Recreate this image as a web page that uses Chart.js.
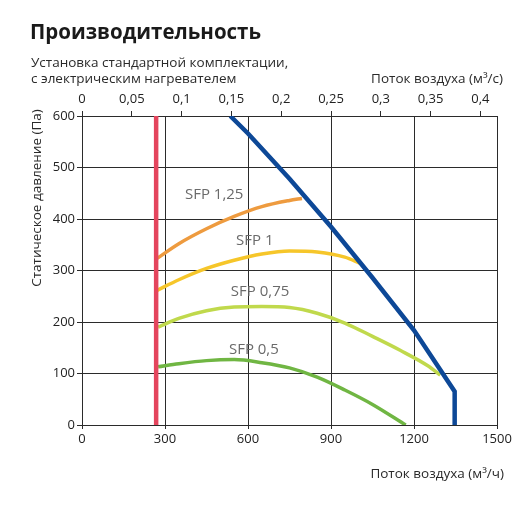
<!DOCTYPE html>
<html>
<head>
<meta charset="utf-8">
<script src="https://cdn.jsdelivr.net/npm/chart.js@4/dist/chart.umd.min.js"></script>
<style>
  html, body { margin: 0; padding: 0; background: #fff; }
  #wrap { position: relative; width: 532px; height: 510px; }
</style>
</head>
<body>
<div id="wrap"><canvas id="perfChart" width="532" height="510"></canvas></div>
<script>
// Airflow (m3/h) and static pressure (Pa)
const limitX = [268, 268];
const limitY = [0, 600];

const fanX = [536, 600, 750, 900, 1050, 1200, 1347, 1347];
const fanY = [600, 566, 478, 385, 286, 184, 65, 0];

const sfp125X = [270, 350, 450, 550, 650, 750, 795];
const sfp125Y = [323, 352, 381, 405, 424, 436, 440];

const sfp1X = [270, 350, 450, 550, 650, 750, 850, 950, 1005];
const sfp1Y = [261, 282, 304, 320, 332, 338, 336, 326, 314];

const sfp075X = [275, 350, 450, 550, 650, 750, 850, 950, 1050, 1150, 1250, 1295];
const sfp075Y = [190, 207, 222, 229, 230, 228, 217, 198, 172, 145, 115, 97];

const sfp05X = [275, 350, 450, 550, 650, 750, 850, 950, 1050, 1170];
const sfp05Y = [113, 119, 125, 127, 121, 111, 93, 68, 40, 0];

// curve labels, anchored in data coords (left edge, vertical middle)
const curveLabels = ['SFP 1,25', 'SFP 1', 'SFP 0,75', 'SFP 0,5'];
const curveLabelX = [372, 557, 538, 531];
const curveLabelY = [447, 357, 258, 146];

// tick labels
const bottomTicks = [0, 300, 600, 900, 1200, 1500];
const topTicks = [0, 0.05, 0.1, 0.15, 0.2, 0.25, 0.3, 0.35, 0.4];
const leftTicks = [0, 100, 200, 300, 400, 500, 600];

const FONT = '"Open Sans", "Noto Sans", sans-serif';
const GRID = '#2b2b2b';

function pts(xs, ys) {
    return xs.map((x, i) => ({ x: x, y: ys[i] }));
}

const textPlugin = {
    id: 'texts',
    afterDatasetsDraw(chart) {
        const ctx = chart.ctx;
        const xs = chart.scales.x, ys = chart.scales.y;
        ctx.save();

        // curve labels
        ctx.fillStyle = '#6a6a6a';
        ctx.font = '15px ' + FONT;
        ctx.textAlign = 'left';
        ctx.textBaseline = 'middle';
        curveLabels.forEach((t, i) => {
            ctx.fillText(t, xs.getPixelForValue(curveLabelX[i]), ys.getPixelForValue(curveLabelY[i]));
        });

        // headings
        ctx.fillStyle = '#1a1a1a';
        ctx.textBaseline = 'alphabetic';
        ctx.font = 'bold 20.5px ' + FONT;
        ctx.fillText('Производительность', 30, 39);

        ctx.fillStyle = '#2a2a2a';
        ctx.font = '13.5px ' + FONT;
        ctx.fillText('Установка стандартной комплектации,', 31, 67);
        ctx.fillText('с электрическим нагревателем', 31, 83);

        ctx.textAlign = 'right';
        ctx.fillText('Поток воздуха (м³/с)', 503, 83);
        ctx.fillText('Поток воздуха (м³/ч)', 504, 478);

        // y axis title
        ctx.translate(37, 198);
        ctx.rotate(-Math.PI / 2);
        ctx.textAlign = 'center';
        ctx.textBaseline = 'middle';
        ctx.fillText('Статическое давление (Па)', 0, 0);
        ctx.restore();
    }
};

const ctx = document.getElementById('perfChart').getContext('2d');
new Chart(ctx, {
    type: 'line',
    data: {
        datasets: [
            { data: pts(fanX, fanY), borderColor: '#0d4897', borderWidth: 4.5, tension: 0, order: 0 },
            { data: pts(limitX, limitY), borderColor: '#e4455d', borderWidth: 4.5, tension: 0, order: 1 },
            { data: pts(sfp125X, sfp125Y), borderColor: '#ee9b3f', borderWidth: 3.5, cubicInterpolationMode: 'monotone', order: 2 },
            { data: pts(sfp1X, sfp1Y), borderColor: '#f6c62a', borderWidth: 3.5, cubicInterpolationMode: 'monotone', order: 3 },
            { data: pts(sfp075X, sfp075Y), borderColor: '#c0d94c', borderWidth: 3.5, cubicInterpolationMode: 'monotone', order: 4 },
            { data: pts(sfp05X, sfp05Y), borderColor: '#70b643', borderWidth: 3.5, cubicInterpolationMode: 'monotone', order: 5 }
        ]
    },
    options: {
        responsive: false,
        animation: false,
        elements: { point: { radius: 0 }, line: { borderCapStyle: 'butt', borderJoinStyle: 'miter' } },
        layout: { padding: { left: 0, top: 0, right: 35, bottom: 0 } },
        plugins: { legend: { display: false }, tooltip: { enabled: false } },
        scales: {
            x: {
                type: 'linear', position: 'bottom', min: 0, max: 1500,
                afterBuildTicks: s => { s.ticks = bottomTicks.map(v => ({ value: v })); },
                afterFit: s => { s.height = 85; },
                grid: { color: GRID, lineWidth: 1, tickLength: 4 },
                border: { color: GRID, width: 1 },
                ticks: { color: '#222', font: { family: FONT, size: 13 }, padding: 2, maxRotation: 0,
                    callback: v => String(v) }
            },
            x2: {
                type: 'linear', position: 'top', min: 0, max: 1500 / 3600,
                afterBuildTicks: s => { s.ticks = topTicks.map(v => ({ value: v })); },
                afterFit: s => { s.height = 116; },
                grid: { drawOnChartArea: false, color: GRID, lineWidth: 1, tickLength: 5 },
                border: { color: GRID, width: 1 },
                ticks: {
                    color: '#222', font: { family: FONT, size: 13 }, padding: 4, maxRotation: 0,
                    callback: v => String(v).replace('.', ',')
                }
            },
            y: {
                type: 'linear', position: 'left', min: 0, max: 600,
                afterBuildTicks: s => { s.ticks = leftTicks.map(v => ({ value: v })); },
                afterFit: s => { s.width = 82; },
                grid: { color: GRID, lineWidth: 1, tickLength: 5 },
                border: { color: GRID, width: 1 },
                ticks: { color: '#222', font: { family: FONT, size: 13 }, padding: 2,
                    callback: v => String(v) }
            }
        }
    },
    plugins: [textPlugin]
});
</script>
</body>
</html>
